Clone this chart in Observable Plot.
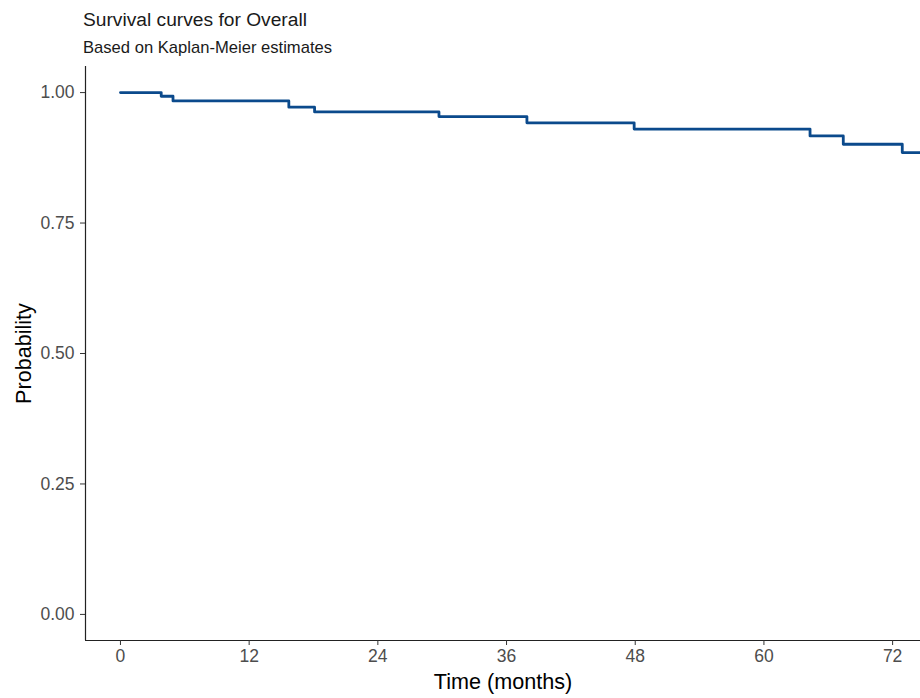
<!DOCTYPE html>
<html>
<head>
<meta charset="utf-8">
<script src="https://cdn.jsdelivr.net/npm/d3@7"></script>
<script src="https://cdn.jsdelivr.net/npm/@observablehq/plot@0.6"></script>
<style>
  body { margin: 0; background: #fff; font-family: "Liberation Sans", Arial, sans-serif; }
  #wrap { width: 920px; height: 698px; overflow: hidden; position: relative; }
  #header { position: relative; height: 60px; }
  #title { position: absolute; left: 83px; top: 9px; font-size: 19.2px; color: #1a1a1a; white-space: nowrap; }
  #subtitle { position: absolute; left: 83px; top: 38px; font-size: 16.6px; color: #1a1a1a; white-space: nowrap; }
  svg { display: block; }
</style>
</head>
<body>
<div id="wrap">
  <div id="header">
    <div id="title">Survival curves for Overall</div>
    <div id="subtitle">Based on Kaplan-Meier estimates</div>
  </div>
  <div id="chart"></div>
</div>
<script>
const times = [0, 3.8, 4.9, 15.7, 18.1, 29.7, 37.9, 47.9, 64.3, 67.4, 72.9, 78];
const survival = [1.0, 0.993, 0.984, 0.972, 0.963, 0.954, 0.942, 0.930, 0.917, 0.901, 0.885, 0.885];
const xTicks = [0, 12, 24, 36, 48, 60, 72];
const yTicks = [0, 0.25, 0.5, 0.75, 1.0];

const data = times.map((t, i) => ({time: t, surv: survival[i]}));
const xDomain = [-3.26, 74.6];
const yDomain = [-0.05, 1.05];
const grey = "#4d4d4d";

const chart = Plot.plot({
  width: 920,
  height: 638,
  marginLeft: 85,
  marginRight: 0,
  marginTop: 6,
  marginBottom: 58,
  style: { fontFamily: "'Liberation Sans', Arial, sans-serif", background: "#fff" },
  x: { domain: xDomain },
  y: { domain: yDomain },
  marks: [
    Plot.line(data, { x: "time", y: "surv", curve: "step-after", stroke: "#0b4a8c", strokeWidth: 2.8, clip: true }),
    Plot.ruleX([xDomain[0]], { stroke: "#222", strokeWidth: 1.2 }),
    Plot.ruleY([yDomain[0]], { stroke: "#222", strokeWidth: 1.2 }),
    Plot.axisX(xTicks, { tickSize: 5, tickPadding: 4, fontSize: 17.5, color: grey, stroke: "#333",
      tickFormat: d => String(d), label: "Time (months)", labelAnchor: "center", labelOffset: 48, labelArrow: "none" }),
    Plot.axisY(yTicks, { tickSize: 5, tickPadding: 6, fontSize: 17.5, color: grey, stroke: "#333",
      tickFormat: d => d.toFixed(2), label: "Probability", labelAnchor: "center", labelOffset: 70, labelArrow: "none" })
  ]
});
document.getElementById("chart").appendChild(chart);
// style axis titles
chart.querySelectorAll("g[aria-label='x-axis label'] text, g[aria-label='y-axis label'] text").forEach(t => {
  t.setAttribute("fill", "#000");
  t.style.fontSize = "21.6px";
});
chart.querySelectorAll("g[aria-label='x-axis label'], g[aria-label='y-axis label']").forEach(g => {
  g.setAttribute("font-size", "21.6");
  g.style.fontSize = "21.6px";
});
</script>
</body>
</html>
